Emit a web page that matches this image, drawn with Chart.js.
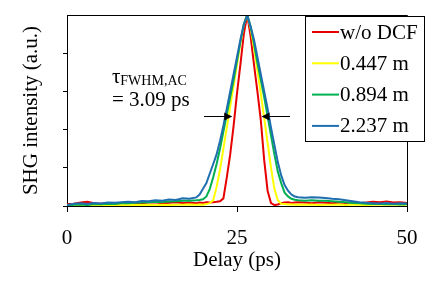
<!DOCTYPE html>
<html>
<head>
<meta charset="utf-8">
<script src="https://cdn.jsdelivr.net/npm/chart.js@4.4.1/dist/chart.umd.min.js"></script>
<style>
  html, body { margin: 0; padding: 0; background: #fff; }
  #chart { display: block; }
</style>
</head>
<body>
<canvas id="chart" width="432" height="288"></canvas>
<script>
// delay axis (ps), finer steps across the pulse
const delay = [0,1,2,3,4,5,6,7,8,9,10,11,12,13,14,15,16,17,18,19,
  19.5,20,20.5,21,21.5,22,22.5,23,23.5,24,24.5,25,25.5,26,26.5,27,27.5,28,28.5,29,
  29.5,30,30.5,31,31.5,32,32.5,33,33.5,34,
  35,36,37,38,39,40,41,42,43,44,45,46,47,48,49,50];

const noDcf = [0.010,0.012,0.018,0.022,0.015,0.012,0.014,0.010,0.013,0.016,0.012,0.014,0.018,0.020,0.015,0.017,0.020,0.016,0.018,0.015,
  0.018,0.016,0.020,0.018,0.020,0.022,0.025,0.040,0.150,0.270,0.420,0.590,0.740,0.900,1.000,0.890,0.740,0.600,0.450,0.240,
  0.080,0.015,0.005,0.008,0.015,0.018,0.020,0.016,0.018,0.020,
  0.018,0.015,0.020,0.017,0.014,0.018,0.016,0.020,0.015,0.018,0.022,0.020,0.024,0.018,0.020,0.016];

const dcf0447 = [0.003,0.004,0.002,0.005,0.003,0.004,0.006,0.003,0.005,0.004,0.006,0.005,0.007,0.004,0.006,0.005,0.007,0.006,0.008,0.006,
  0.008,0.007,0.010,0.015,0.030,0.100,0.190,0.300,0.410,0.520,0.630,0.740,0.850,0.950,1.000,0.930,0.830,0.710,0.590,0.460,
  0.330,0.200,0.090,0.030,0.012,0.010,0.008,0.009,0.007,0.008,
  0.006,0.008,0.005,0.007,0.006,0.008,0.005,0.007,0.006,0.005,0.007,0.006,0.008,0.006,0.007,0.006];

const dcf0894 = [0.002,0.006,0.008,0.005,0.010,0.009,0.012,0.011,0.015,0.014,0.017,0.018,0.020,0.022,0.021,0.024,0.025,0.027,0.028,0.030,
  0.032,0.035,0.050,0.090,0.150,0.220,0.300,0.390,0.480,0.570,0.660,0.760,0.860,0.950,1.000,0.940,0.850,0.750,0.660,0.570,
  0.470,0.370,0.270,0.180,0.120,0.070,0.050,0.038,0.033,0.030,
  0.028,0.030,0.028,0.027,0.025,0.022,0.020,0.016,0.014,0.012,0.010,0.011,0.009,0.010,0.008,0.009];

const dcf2237 = [0.005,0.012,0.015,0.010,0.016,0.013,0.018,0.017,0.020,0.022,0.020,0.026,0.025,0.030,0.028,0.034,0.032,0.040,0.038,0.045,
  0.060,0.090,0.120,0.170,0.220,0.270,0.340,0.420,0.510,0.600,0.690,0.780,0.870,0.950,1.000,0.940,0.870,0.780,0.690,0.600,
  0.510,0.410,0.320,0.230,0.160,0.110,0.080,0.060,0.050,0.046,
  0.043,0.046,0.045,0.042,0.038,0.035,0.030,0.025,0.020,0.017,0.015,0.013,0.016,0.012,0.014,0.013];

const seriesNames = ['w/o DCF', '0.447 m', '0.894 m', '2.237 m'];
const seriesColors = ['#e60000', '#ffff00', '#00b050', '#1f6fb0'];
const seriesValues = [noDcf, dcf0447, dcf0894, dcf2237];
const seriesOrder = [3, 2, 1, 0];

const xTicks = [0, 25, 50];
const yTicks = [0, 0.2, 0.4, 0.6, 0.8];

// FWHM annotation in data units
const fwhmLevel = 0.47;
const arrowLeft = [20.15, 24.3];
const arrowRight = [32.8, 28.6];

const FONT = "'Liberation Serif', 'Times New Roman', serif";

const decorations = {
    id: 'decorations',
    afterDraw(chart) {
        const ctx = chart.ctx;
        const a = chart.chartArea;
        const xs = chart.scales.x;
        const ys = chart.scales.y;
        ctx.save();

        // top and right frame lines
        ctx.strokeStyle = '#000';
        ctx.lineWidth = 1;
        ctx.beginPath();
        ctx.moveTo(a.left, a.top + 0.5);
        ctx.lineTo(a.right + 0.5, a.top + 0.5);
        ctx.lineTo(a.right + 0.5, a.bottom);
        ctx.stroke();

        // arrows
        const yy = Math.round(ys.getPixelForValue(fwhmLevel)) + 0.5;
        [arrowLeft, arrowRight].forEach(([from, to]) => {
            const x0 = xs.getPixelForValue(from);
            const x1 = xs.getPixelForValue(to);
            const dir = Math.sign(x1 - x0);
            ctx.beginPath();
            ctx.moveTo(x0, yy);
            ctx.lineTo(x1 - dir * 6, yy);
            ctx.stroke();
            ctx.fillStyle = '#000';
            ctx.beginPath();
            ctx.moveTo(x1, yy);
            ctx.lineTo(x1 - dir * 8, yy - 4);
            ctx.lineTo(x1 - dir * 8, yy + 4);
            ctx.closePath();
            ctx.fill();
        });

        // annotation text
        const tx = xs.getPixelForValue(6.6);
        ctx.fillStyle = '#000';
        ctx.textAlign = 'left';
        ctx.textBaseline = 'alphabetic';
        ctx.font = '21px ' + FONT;
        ctx.fillText('τ', tx, ys.getPixelForValue(0.644));
        const tw = ctx.measureText('τ').width;
        ctx.font = '14px ' + FONT;
        ctx.fillText('FWHM,AC', tx + tw, ys.getPixelForValue(0.64) + 1);
        ctx.font = '21px ' + FONT;
        ctx.fillText('= 3.09 ps', tx, ys.getPixelForValue(0.524));

        // legend box
        const bx = 305, by = 16, bw = 119, bh = 125;
        ctx.fillStyle = '#fff';
        ctx.fillRect(bx, by, bw, bh);
        ctx.strokeStyle = '#000';
        ctx.strokeRect(bx + 0.5, by + 0.5, bw, bh);
        ctx.textBaseline = 'middle';
        chart.data.datasets.forEach((ds, i) => {
            const ly = by + 16 + i * 31.3;
            ctx.strokeStyle = ds.borderColor;
            ctx.lineWidth = 2;
            ctx.beginPath();
            ctx.moveTo(bx + 7, ly);
            ctx.lineTo(bx + 34, ly);
            ctx.stroke();
            ctx.fillStyle = '#000';
            ctx.font = '21px ' + FONT;
            ctx.fillText(ds.label, bx + 35, ly + 1);
        });
        ctx.restore();
    }
};

new Chart(document.getElementById('chart'), {
    type: 'line',
    data: {
        datasets: seriesNames.map((name, i) => ({
            label: name,
            data: delay.map((d, j) => ({ x: d, y: seriesValues[i][j] })),
            borderColor: seriesColors[i],
            borderWidth: 2,
            pointRadius: 0,
            tension: 0,
            order: seriesOrder[i]
        }))
    },
    options: {
        responsive: false,
        animation: false,
        layout: { padding: { top: 15, right: 25, left: 0, bottom: 0 } },
        plugins: {
            legend: { display: false },
            tooltip: { enabled: false }
        },
        scales: {
            x: {
                type: 'linear',
                min: 0,
                max: 50,
                afterBuildTicks: s => { s.ticks = xTicks.map(v => ({ value: v })); },
                afterFit: s => { s.height = 82; },
                grid: { drawOnChartArea: false, drawTicks: true, tickLength: 6, color: '#000' },
                border: { display: true, color: '#000', width: 1 },
                ticks: { color: '#000', font: { family: FONT, size: 21 }, padding: 14, maxRotation: 0 },
                title: {
                    display: true,
                    text: 'Delay (ps)',
                    color: '#000',
                    font: { family: FONT, size: 21 },
                    padding: { top: 0, bottom: 15 }
                }
            },
            y: {
                type: 'linear',
                min: 0,
                max: 1,
                afterBuildTicks: s => { s.ticks = yTicks.map(v => ({ value: v })); },
                afterFit: s => { s.width = 67; },
                grid: { drawOnChartArea: false, drawTicks: true, tickLength: 4, color: '#000' },
                border: { display: true, color: '#000', width: 1 },
                ticks: { display: false },
                title: {
                    display: true,
                    text: 'SHG intensity (a.u.)',
                    color: '#000',
                    font: { family: FONT, size: 21 },
                    padding: { top: 19, bottom: 0 }
                }
            }
        }
    },
    plugins: [decorations]
});
</script>
</body>
</html>
